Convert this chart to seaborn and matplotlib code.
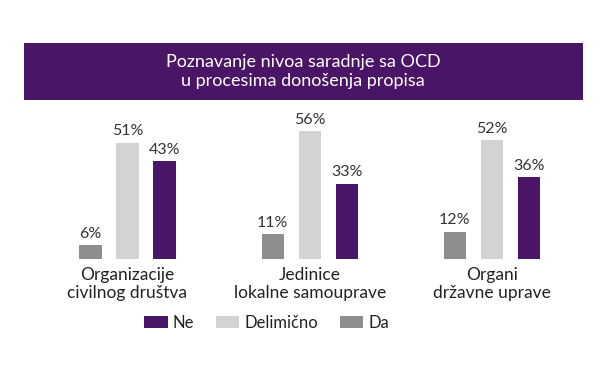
import pandas as pd
import matplotlib.pyplot as plt
import seaborn as sns
from matplotlib.patches import Rectangle, Patch

# Podaci
grupe = ['Organizacije\ncivilnog društva', 'Jedinice\nlokalne samouprave', 'Organi\ndržavne uprave']
odgovori = ['Da', 'Delimično', 'Ne']
da = [6, 11, 12]
delimicno = [51, 56, 52]
ne = [43, 33, 36]

boje = {'Da': '#8e8e8e', 'Delimično': '#d3d3d3', 'Ne': '#4a1566'}

# Long format tabela za seaborn
df = pd.DataFrame({
    'grupa': grupe * 3,
    'odgovor': ['Da'] * 3 + ['Delimično'] * 3 + ['Ne'] * 3,
    'procenat': da + delimicno + ne,
})

sns.set_style('white')
plt.rcParams['font.family'] = ['Lato', 'DejaVu Sans']

fig = plt.figure(figsize=(6.06, 3.71), dpi=100)
ax = fig.add_axes([0.06, 0.302, 0.902, 0.40])

sns.barplot(data=df, x='grupa', y='procenat', hue='odgovor', hue_order=odgovori,
            order=grupe, palette=boje, saturation=1, width=0.61, gap=0.4,
            linewidth=0, legend=False, ax=ax)

for cont in ax.containers:
    ax.bar_label(cont, fmt='%d%%', padding=3, fontsize=11.5, color='#333333')

ax.set_ylim(0, 65)
ax.set_xlabel('')
ax.set_ylabel('')
ax.set_yticks([])
ax.tick_params(axis='x', length=0, pad=6, labelsize=12.5, colors='#222222')
for lbl in ax.get_xticklabels():
    lbl.set_linespacing(1.1)
sns.despine(ax=ax, left=True, bottom=True)

# Naslov u ljubičastom pravougaoniku
fig.patches.append(Rectangle((0.04, 0.73), 0.922, 0.154, transform=fig.transFigure,
                             facecolor='#4a1566', edgecolor='none', zorder=0))
fig.text(0.5, 0.807, 'Poznavanje nivoa saradnje sa OCD\nu procesima donošenja propisa',
         ha='center', va='center', color='white', fontsize=13, linespacing=1.25)

# Legenda
handles = [Patch(facecolor=boje[o], edgecolor='none', label=o) for o in ['Ne', 'Delimično', 'Da']]
fig.legend(handles=handles, loc='center', bbox_to_anchor=(0.44, 0.13), ncol=3,
           frameon=False, fontsize=12, handlelength=1.4, handleheight=0.8,
           handletextpad=0.3, columnspacing=1.3, labelcolor='#222222')

plt.savefig('out.png', dpi=100)
